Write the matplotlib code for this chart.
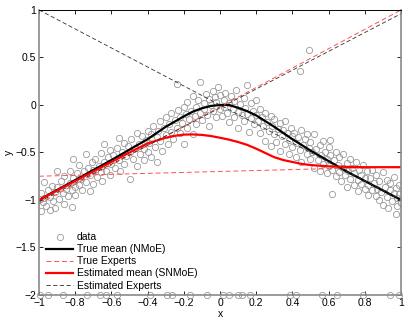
import matplotlib
matplotlib.use("Agg")
import matplotlib.pyplot as plt

plt.rcParams["font.family"] = ["Liberation Sans", "DejaVu Sans"]

# noisy samples (x, y)
DATA_POINTS = [
    (-0.99, -0.93), (-0.99, -1.12), (-0.98, -1.02), (-0.97, -0.81), (-0.97, -0.98), (-0.96, -1.06),
    (-0.95, -0.90), (-0.94, -1.11), (-0.94, -0.97), (-0.93, -0.85), (-0.92, -1.01), (-0.91, -1.08),
    (-0.91, -0.92), (-0.90, -0.70), (-0.90, -0.86), (-0.89, -0.99), (-0.88, -0.80), (-0.87, -0.93),
    (-0.86, -1.04), (-0.86, -0.75), (-0.85, -0.88), (-0.84, -0.96), (-0.83, -0.69), (-0.83, -0.82),
    (-0.82, -1.07), (-0.82, -0.90), (-0.81, -0.57), (-0.81, -0.77), (-0.80, -0.86), (-0.80, -0.95),
    (-0.79, -0.72), (-0.78, -0.84), (-0.78, -0.63), (-0.77, -0.78), (-0.76, -0.90), (-0.75, -0.70),
    (-0.74, -0.52), (-0.74, -0.81), (-0.73, -0.66), (-0.72, -0.91), (-0.72, -0.74), (-0.71, -0.60),
    (-0.70, -0.83), (-0.70, -0.68), (-0.69, -0.57), (-0.68, -0.76), (-0.67, -0.64), (-0.66, -0.51),
    (-0.66, -0.71), (-0.65, -0.80), (-0.64, -0.41), (-0.64, -0.60), (-0.63, -0.69), (-0.62, -0.55),
    (-0.61, -0.74), (-0.61, -0.47), (-0.60, -0.62),
    (-0.59, -0.53), (-0.58, -0.66), (-0.57, -0.45), (-0.56, -0.35), (-0.56, -0.58), (-0.55, -0.70),
    (-0.54, -0.49), (-0.53, -0.40), (-0.53, -0.62), (-0.52, -0.54), (-0.51, -0.43), (-0.50, -0.78),
    (-0.50, -0.50), (-0.49, -0.36), (-0.48, -0.57), (-0.47, -0.45), (-0.46, -0.30), (-0.46, -0.64),
    (-0.45, -0.41), (-0.44, -0.52), (-0.43, -0.33), (-0.42, -0.46), (-0.42, -0.58), (-0.41, -0.37),
    (-0.40, -0.27), (-0.40, -0.49),
    (-0.39, -0.40), (-0.38, -0.55), (-0.38, -0.31), (-0.37, -0.22), (-0.36, -0.44), (-0.35, -0.34),
    (-0.35, -0.60), (-0.34, -0.27), (-0.33, -0.17), (-0.33, -0.38), (-0.32, -0.48), (-0.31, -0.24),
    (-0.30, -0.32), (-0.30, -0.13), (-0.29, -0.41), (-0.28, -0.20), (-0.27, -0.28), (-0.27, -0.08),
    (-0.26, -0.36), (-0.25, -0.16), (-0.24, 0.22), (-0.24, -0.24), (-0.23, -0.05), (-0.22, -0.30),
    (-0.22, -0.13), (-0.21, -0.19), (-0.20, -0.02), (-0.20, -0.41),
    (-0.19, -0.10), (-0.18, -0.24), (-0.18, 0.03), (-0.17, -0.15), (-0.16, -0.06), (-0.15, -0.31),
    (-0.15, 0.09), (-0.14, -0.12), (-0.13, -0.02), (-0.13, -0.20), (-0.12, 0.05), (-0.11, 0.24),
    (-0.11, -0.08), (-0.10, -0.16), (-0.09, 0.02), (-0.09, -0.04), (-0.08, 0.12), (-0.07, -0.11),
    (-0.06, 0.06), (-0.06, -0.22), (-0.05, 0.00), (-0.04, 0.15), (-0.04, -0.06), (-0.03, 0.08),
    (-0.02, -0.13), (-0.02, 0.03), (-0.01, 0.19), (0.00, -0.04), (0.00, 0.10),
    (0.01, -0.12), (0.02, 0.05), (0.02, -0.02), (0.03, 0.13), (0.04, -0.08), (0.05, 0.02),
    (0.05, -0.18), (0.06, 0.09), (0.07, -0.04), (0.08, -0.13), (0.08, 0.04), (0.09, 0.16),
    (0.10, -0.07), (0.10, -0.24), (0.11, 0.01), (0.12, -0.11), (0.13, 0.07), (0.13, -0.17),
    (0.14, -0.03), (0.15, 0.21), (0.15, -0.09), (0.16, -0.28), (0.17, -0.14), (0.17, 0.02),
    (0.18, -0.06), (0.19, -0.20), (0.20, -0.11), (0.20, 0.05),
    (0.21, -0.17), (0.22, -0.04), (0.22, -0.30), (0.23, -0.13), (0.24, -0.22), (0.25, -0.08),
    (0.25, -0.38), (0.26, -0.18), (0.27, -0.27), (0.28, -0.12), (0.28, -0.43), (0.29, -0.22),
    (0.30, -0.31), (0.30, -0.15), (0.31, -0.39), (0.32, -0.25), (0.33, -0.19), (0.33, -0.48),
    (0.34, -0.33), (0.35, -0.26), (0.36, -0.41), (0.36, -0.17), (0.37, -0.30), (0.38, -0.52),
    (0.38, -0.37), (0.39, -0.24), (0.40, -0.44), (0.40, -0.33),
    (0.41, -0.29), (0.42, -0.40), (0.42, -0.55), (0.43, -0.34), (0.44, 0.36), (0.44, -0.47),
    (0.45, -0.26), (0.45, -0.60), (0.46, -0.42), (0.47, -0.36), (0.48, -0.52), (0.48, -0.31),
    (0.49, 0.58), (0.49, -0.45), (0.50, -0.57), (0.50, -0.39), (0.51, -0.50), (0.52, -0.66),
    (0.52, -0.31), (0.53, -0.46), (0.54, -0.58), (0.55, -0.42), (0.55, -0.69), (0.56, -0.53),
    (0.57, -0.38), (0.57, -0.62), (0.58, -0.49), (0.59, -0.72), (0.59, -0.57), (0.60, -0.44),
    (0.60, -0.64),
    (0.61, -0.53), (0.61, -0.37), (0.62, -0.94), (0.62, -0.68), (0.63, -0.58), (0.64, -0.75),
    (0.64, -0.49), (0.65, -0.63), (0.66, -0.71), (0.66, -0.55), (0.67, -0.80), (0.68, -0.66),
    (0.68, -0.52), (0.69, -0.74), (0.70, -0.61), (0.70, -0.86), (0.71, -0.69), (0.72, -0.57),
    (0.72, -0.78), (0.73, -0.66), (0.74, -0.84), (0.74, -0.72), (0.75, -0.60), (0.76, -0.79),
    (0.76, -0.91), (0.77, -0.68), (0.78, -0.83), (0.78, -0.74), (0.79, -0.63), (0.80, -0.88),
    (0.80, -0.77),
    (0.81, -0.70), (0.82, -0.84), (0.82, -0.95), (0.83, -0.77), (0.84, -0.89), (0.84, -0.68),
    (0.85, -0.82), (0.86, -0.96), (0.86, -0.74), (0.87, -0.88), (0.88, -1.00), (0.88, -0.80),
    (0.89, -0.92), (0.90, -0.71), (0.90, -1.05), (0.91, -0.86), (0.92, -0.97), (0.92, -0.79),
    (0.93, -1.08), (0.94, -0.90), (0.94, -0.82), (0.95, -1.01), (0.96, -0.93), (0.96, -0.76),
    (0.97, -1.15), (0.97, -0.87), (0.98, -0.98), (0.98, -1.06), (0.99, -0.84), (0.99, -0.94),
    (1.00, -1.03),
]

# outliers sitting on the lower limit
OUTLIER_X = [-0.994, -0.952, -0.866, -0.733, -0.663, -0.63, -0.57, -0.386, -0.294, -0.263,
             -0.165, -0.073, 0.019, 0.047, 0.102, 0.124, 0.167, 0.388, 0.419, 0.563,
             0.646, 0.788, 0.941, 0.987]
OUTLIER_Y = -2.0

TRUE_MEAN_X = [-1.0, -0.8, -0.6, -0.5, -0.4, -0.3, -0.25, -0.2, -0.15, -0.1, -0.05, 0.0, 0.05,
               0.1, 0.15, 0.2, 0.25, 0.3, 0.4, 0.5, 0.6, 0.7, 0.8, 0.9, 1.0]
TRUE_MEAN_Y = [-1.0, -0.79, -0.58, -0.47, -0.36, -0.23, -0.175, -0.12, -0.07, -0.035, -0.01, 0.0,
               0.0, -0.03, -0.065, -0.11, -0.17, -0.23, -0.36, -0.48, -0.59, -0.7, -0.8, -0.9, -1.0]

EST_MEAN_X = [-1.0, -0.8, -0.6, -0.5, -0.4, -0.3, -0.25, -0.2, -0.15, -0.1, -0.05, 0.0, 0.05,
              0.1, 0.15, 0.2, 0.25, 0.3, 0.35, 0.4, 0.45, 0.5, 0.6, 0.7, 0.8, 1.0]
EST_MEAN_Y = [-1.0, -0.8, -0.6, -0.5, -0.405, -0.345, -0.325, -0.312, -0.31, -0.315, -0.327,
              -0.345, -0.365, -0.39, -0.42, -0.46, -0.505, -0.55, -0.58, -0.6, -0.62, -0.632,
              -0.646, -0.652, -0.655, -0.655]

TRUE_EXPERTS = [([-1.0, 1.0], [-0.75, -0.65]),
                ([-1.0, 1.0], [-1.04, 1.0])]
EST_EXPERTS = [([-1.0, 1.0], [1.0, -1.0]),
               ([-1.0, 1.0], [-1.02, 0.96])]

fig = plt.figure(figsize=(4.09, 3.21), dpi=100)
ax = fig.add_axes([0.0954, 0.081, 0.885, 0.888])

dx = [p[0] for p in DATA_POINTS]
dy = [p[1] for p in DATA_POINTS]
ax.plot(dx, dy, "o", ms=4.5, mfc="none", mec="#9a9a9a", mew=0.6, label="data")
ax.plot(OUTLIER_X, [OUTLIER_Y] * len(OUTLIER_X), "o", ms=4.5, mfc="none", mec="#9a9a9a",
        mew=0.6, clip_on=False)

ax.plot(TRUE_MEAN_X, TRUE_MEAN_Y, color="black", lw=1.6, label="True mean (NMoE)")
for i, (ex, ey) in enumerate(TRUE_EXPERTS):
    ax.plot(ex, ey, color="#ff5050", lw=0.7, dashes=(5, 3),
            label="True Experts" if i == 0 else None)
ax.plot(EST_MEAN_X, EST_MEAN_Y, color="red", lw=1.6, label="Estimated mean (SNMoE)")
for i, (ex, ey) in enumerate(EST_EXPERTS):
    ax.plot(ex, ey, color="#303030", lw=0.6, dashes=(5, 3),
            label="Estimated Experts" if i == 0 else None)

ax.set_xlim(-1, 1)
ax.set_ylim(-2, 1)
xt = [-1, -0.8, -0.6, -0.4, -0.2, 0, 0.2, 0.4, 0.6, 0.8, 1]
yt = [-2, -1.5, -1, -0.5, 0, 0.5, 1]
ax.set_xticks(xt)
ax.set_xticklabels([f"{v:g}".replace("-", "\u2212") for v in xt])
ax.set_yticks(yt)
ax.set_yticklabels([f"{v:g}".replace("-", "\u2212") for v in yt])
ax.tick_params(direction="in", length=3, width=0.6, labelsize=7.5, top=True, right=True, pad=2)

for side in ["left", "bottom", "right"]:
    ax.spines[side].set_color("#8a8a8a")
    ax.spines[side].set_linewidth(1.2)
ax.spines["top"].set_color("black")
ax.spines["top"].set_linewidth(0.7)

ax.set_xlabel("x", fontsize=7.5, labelpad=1)
ax.set_ylabel("y", fontsize=7.5, labelpad=1)

ax.legend(loc="lower left", bbox_to_anchor=(0.0, -0.01), frameon=False, fontsize=7.5,
          handlelength=2.6, handletextpad=0.3, labelspacing=0.2, borderaxespad=0.3)

fig.savefig("out.png", dpi=100)
